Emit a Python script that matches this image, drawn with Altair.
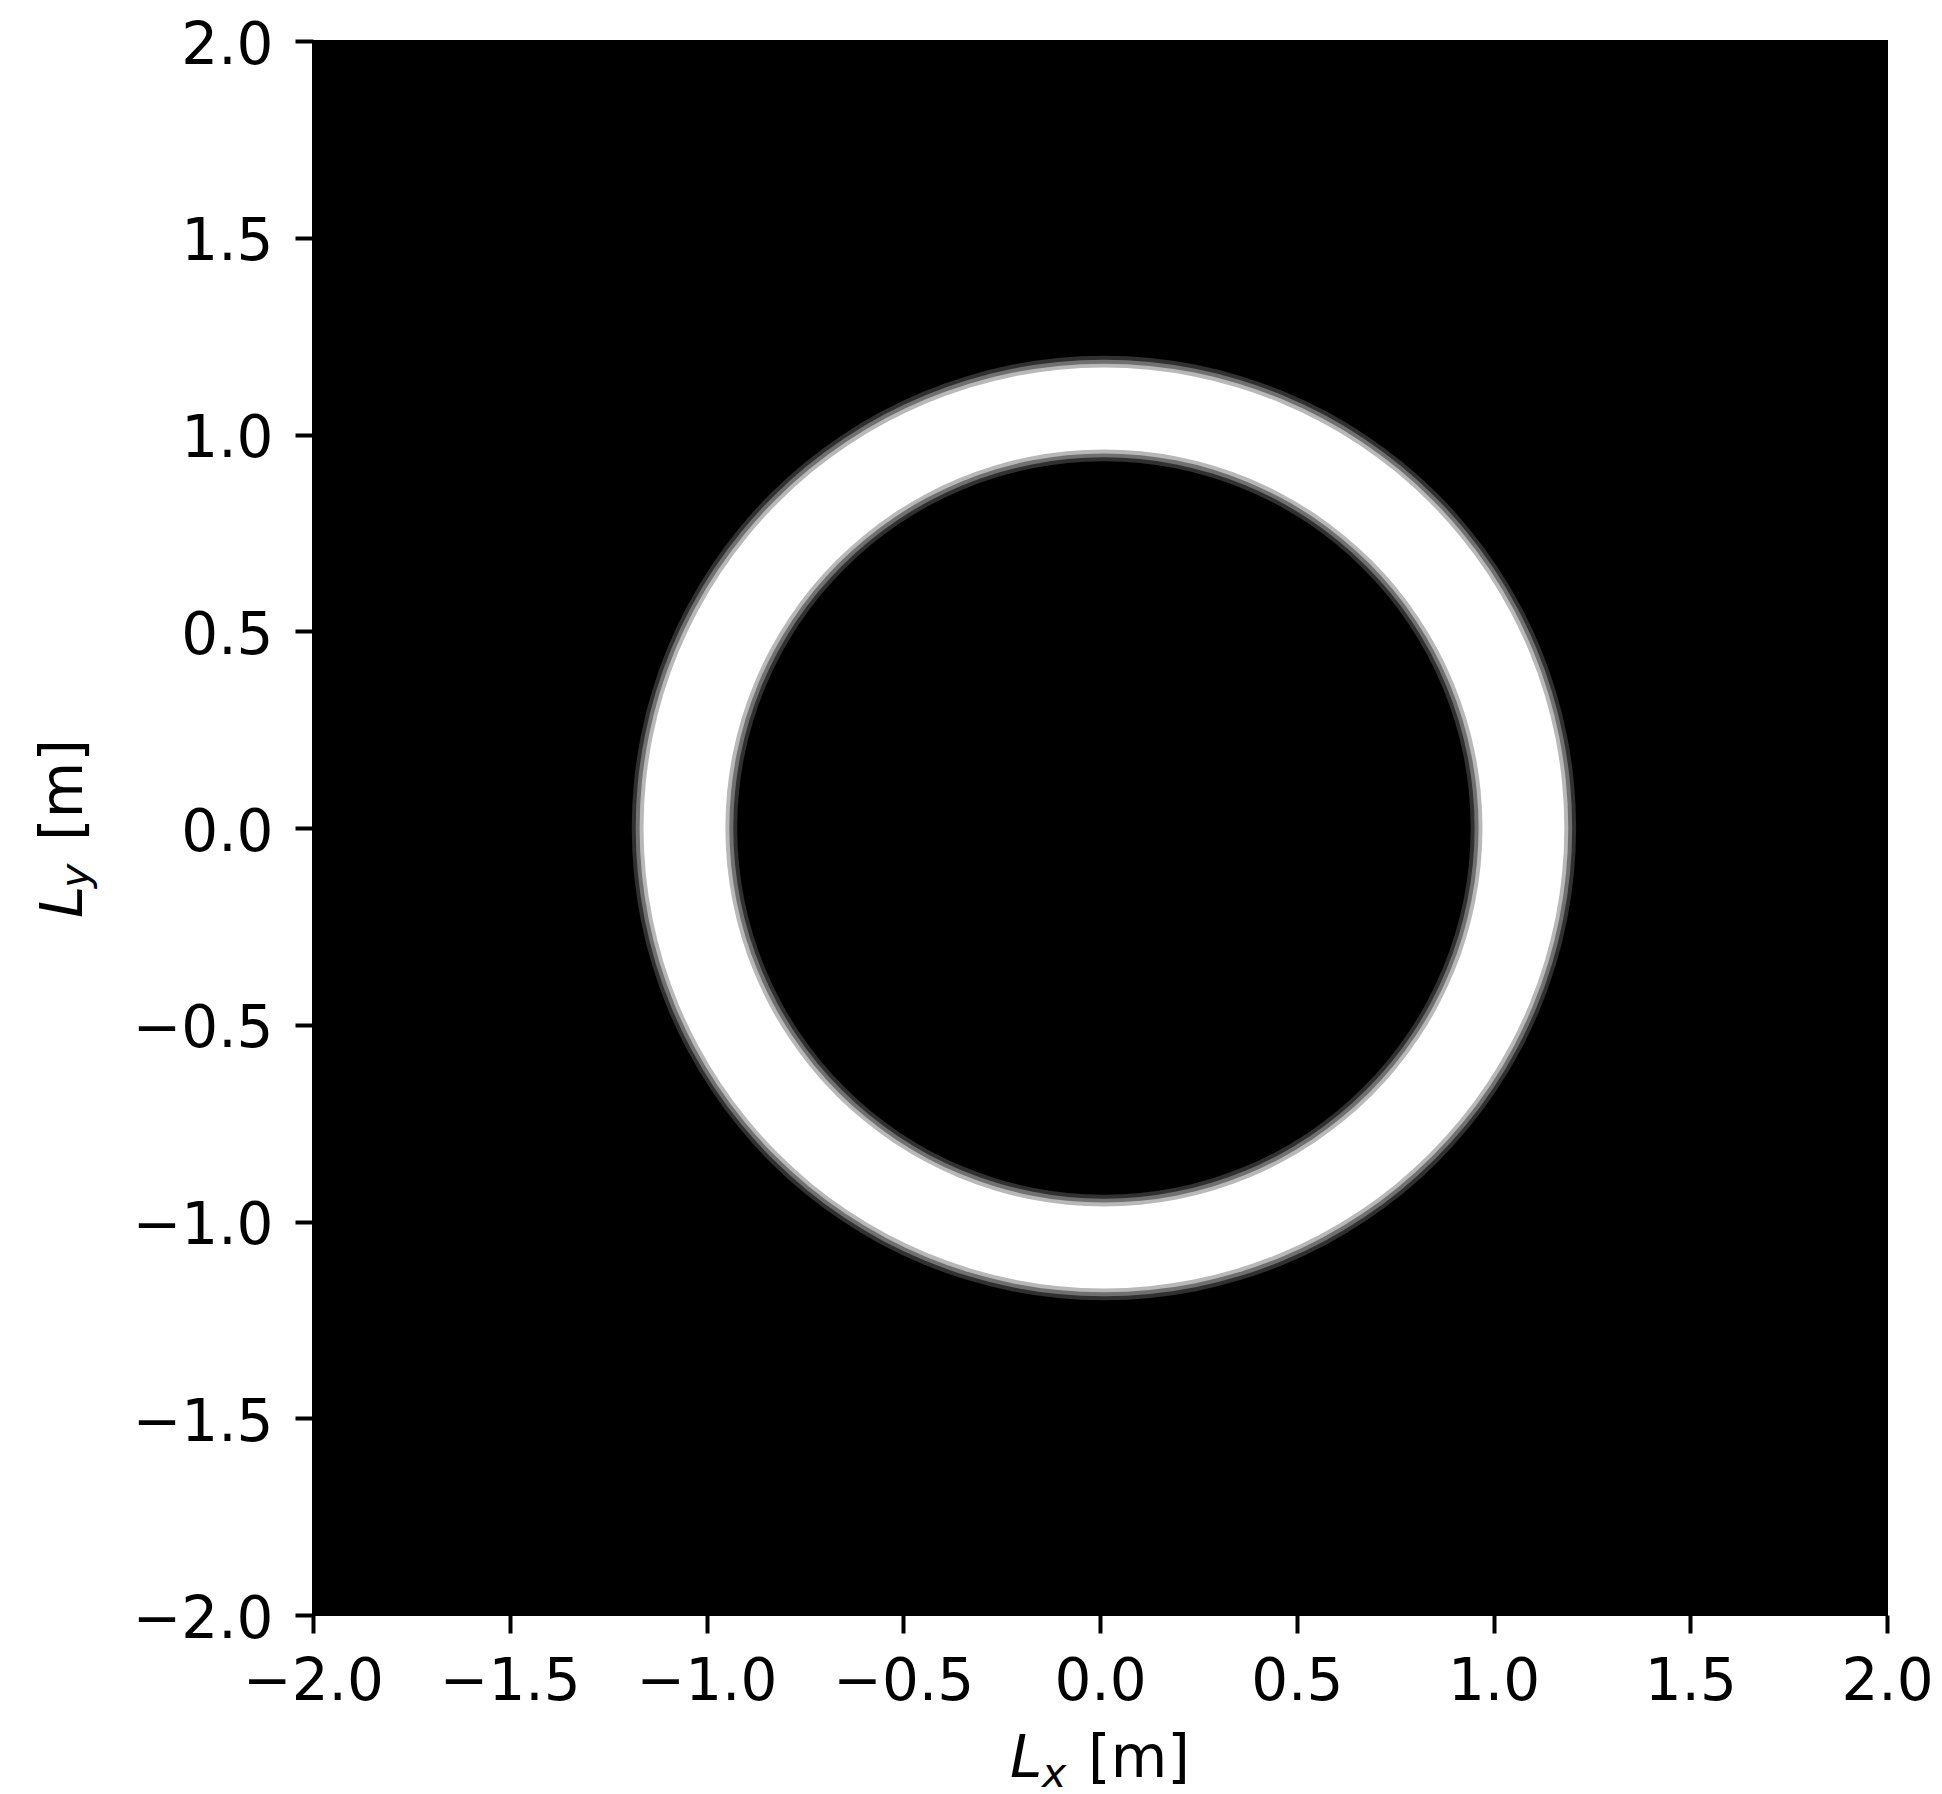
import altair as alt
import pandas as pd

# Annular aperture mask on a 4 m x 4 m field
FIELD_EXTENT = [-2.0, 2.0]          # metres, both axes
TICKS = [-2.0, -1.5, -1.0, -0.5, 0.0, 0.5, 1.0, 1.5, 2.0]
RING_CENTER = [0.01, 0.0]           # metres
INNER_RADIUS = 0.947                # metres
OUTER_RADIUS = 1.185                # metres

# Soft rim of the rendered mask: offsets (m) from each edge and their grey level
FEATHER_OFFSETS = [0.015, 0.005, -0.005, -0.015]
OUTER_SHADES = ["#303030", "#707070", "#b8b8b8", "#ffffff"]
INNER_SHADES = ["#b8b8b8", "#707070", "#303030", "#000000"]

W = 1574
H = 1574
FONT = "DejaVu Sans"
FS = 58

# Concentric filled discs, drawn from the largest radius down
rows = []
for off, shade in zip(FEATHER_OFFSETS, OUTER_SHADES):
    rows.append({"cx": RING_CENTER[0], "cy": RING_CENTER[1], "r": OUTER_RADIUS + off, "shade": shade})
for off, shade in zip(FEATHER_OFFSETS, INNER_SHADES):
    rows.append({"cx": RING_CENTER[0], "cy": RING_CENTER[1], "r": INNER_RADIUS + off, "shade": shade})
for i, row in enumerate(rows):
    row["k"] = i
discs = pd.DataFrame(rows)

half_span = (FIELD_EXTENT[1] - FIELD_EXTENT[0]) / 2

x_axis = alt.Axis(
    values=TICKS, format=".1f", title=None, grid=False, domain=False,
    tickSize=18, tickWidth=4, tickColor="black",
    labelFont=FONT, labelFontSize=FS, labelColor="black",
    labelBaseline="alphabetic", labelPadding=66, labelFlush=False,
)
y_axis = alt.Axis(
    values=TICKS, format=".1f", title=None, grid=False, domain=False,
    tickSize=18, tickWidth=4, tickColor="black",
    labelFont=FONT, labelFontSize=FS, labelColor="black",
    labelBaseline="alphabetic", labelOffset=22, labelPadding=22, labelFlush=False,
)

ring = alt.Chart(discs).mark_arc(theta=0, theta2=6.283185307179586).encode(
    x=alt.X("cx:Q", scale=alt.Scale(domain=FIELD_EXTENT, nice=False, zero=False), axis=x_axis),
    y=alt.Y("cy:Q", scale=alt.Scale(domain=FIELD_EXTENT, nice=False, zero=False), axis=y_axis),
    radius=alt.Radius("r:Q", stack=False,
                      scale=alt.Scale(type="linear", domain=[0, half_span], range=[0, W / 2], zero=True)),
    color=alt.Color("shade:N", scale=None, legend=None),
    order=alt.Order("k:Q"),
)

one = alt.Data(values=[{"a": 1}])

def label(text, x, y, size=FS, italic=False, angle=0):
    return alt.Chart(one).mark_text(
        text=text, font=FONT, fontSize=size, fontStyle="italic" if italic else "normal",
        color="black", align="left", baseline="alphabetic", angle=angle,
    ).encode(x=alt.value(x), y=alt.value(y))

# x-axis title: L_x [m]
xt_base = 1736
x_title = [
    label("L", 697, xt_base, italic=True),
    label("x", 729, xt_base + 10, size=41, italic=True),
    label("[m]", 775, xt_base),
]

# y-axis title: L_y [m], reading upward
yt_base = -231
y_title = [
    label("L", yt_base, 877, italic=True, angle=270),
    label("y", yt_base + 7, 847, size=41, italic=True, angle=270),
    label("[m]", yt_base, 800, angle=270),
]

chart = alt.layer(ring, *x_title, *y_title).properties(
    width=W, height=H,
    autosize=alt.AutoSizeParams(type="none"),
    padding={"left": 313, "top": 41, "right": 55, "bottom": 179},
    background="white",
).configure_view(fill="black", stroke="black", strokeWidth=2)

chart.save("out.html", embed_options={"renderer": "svg", "actions": False})
